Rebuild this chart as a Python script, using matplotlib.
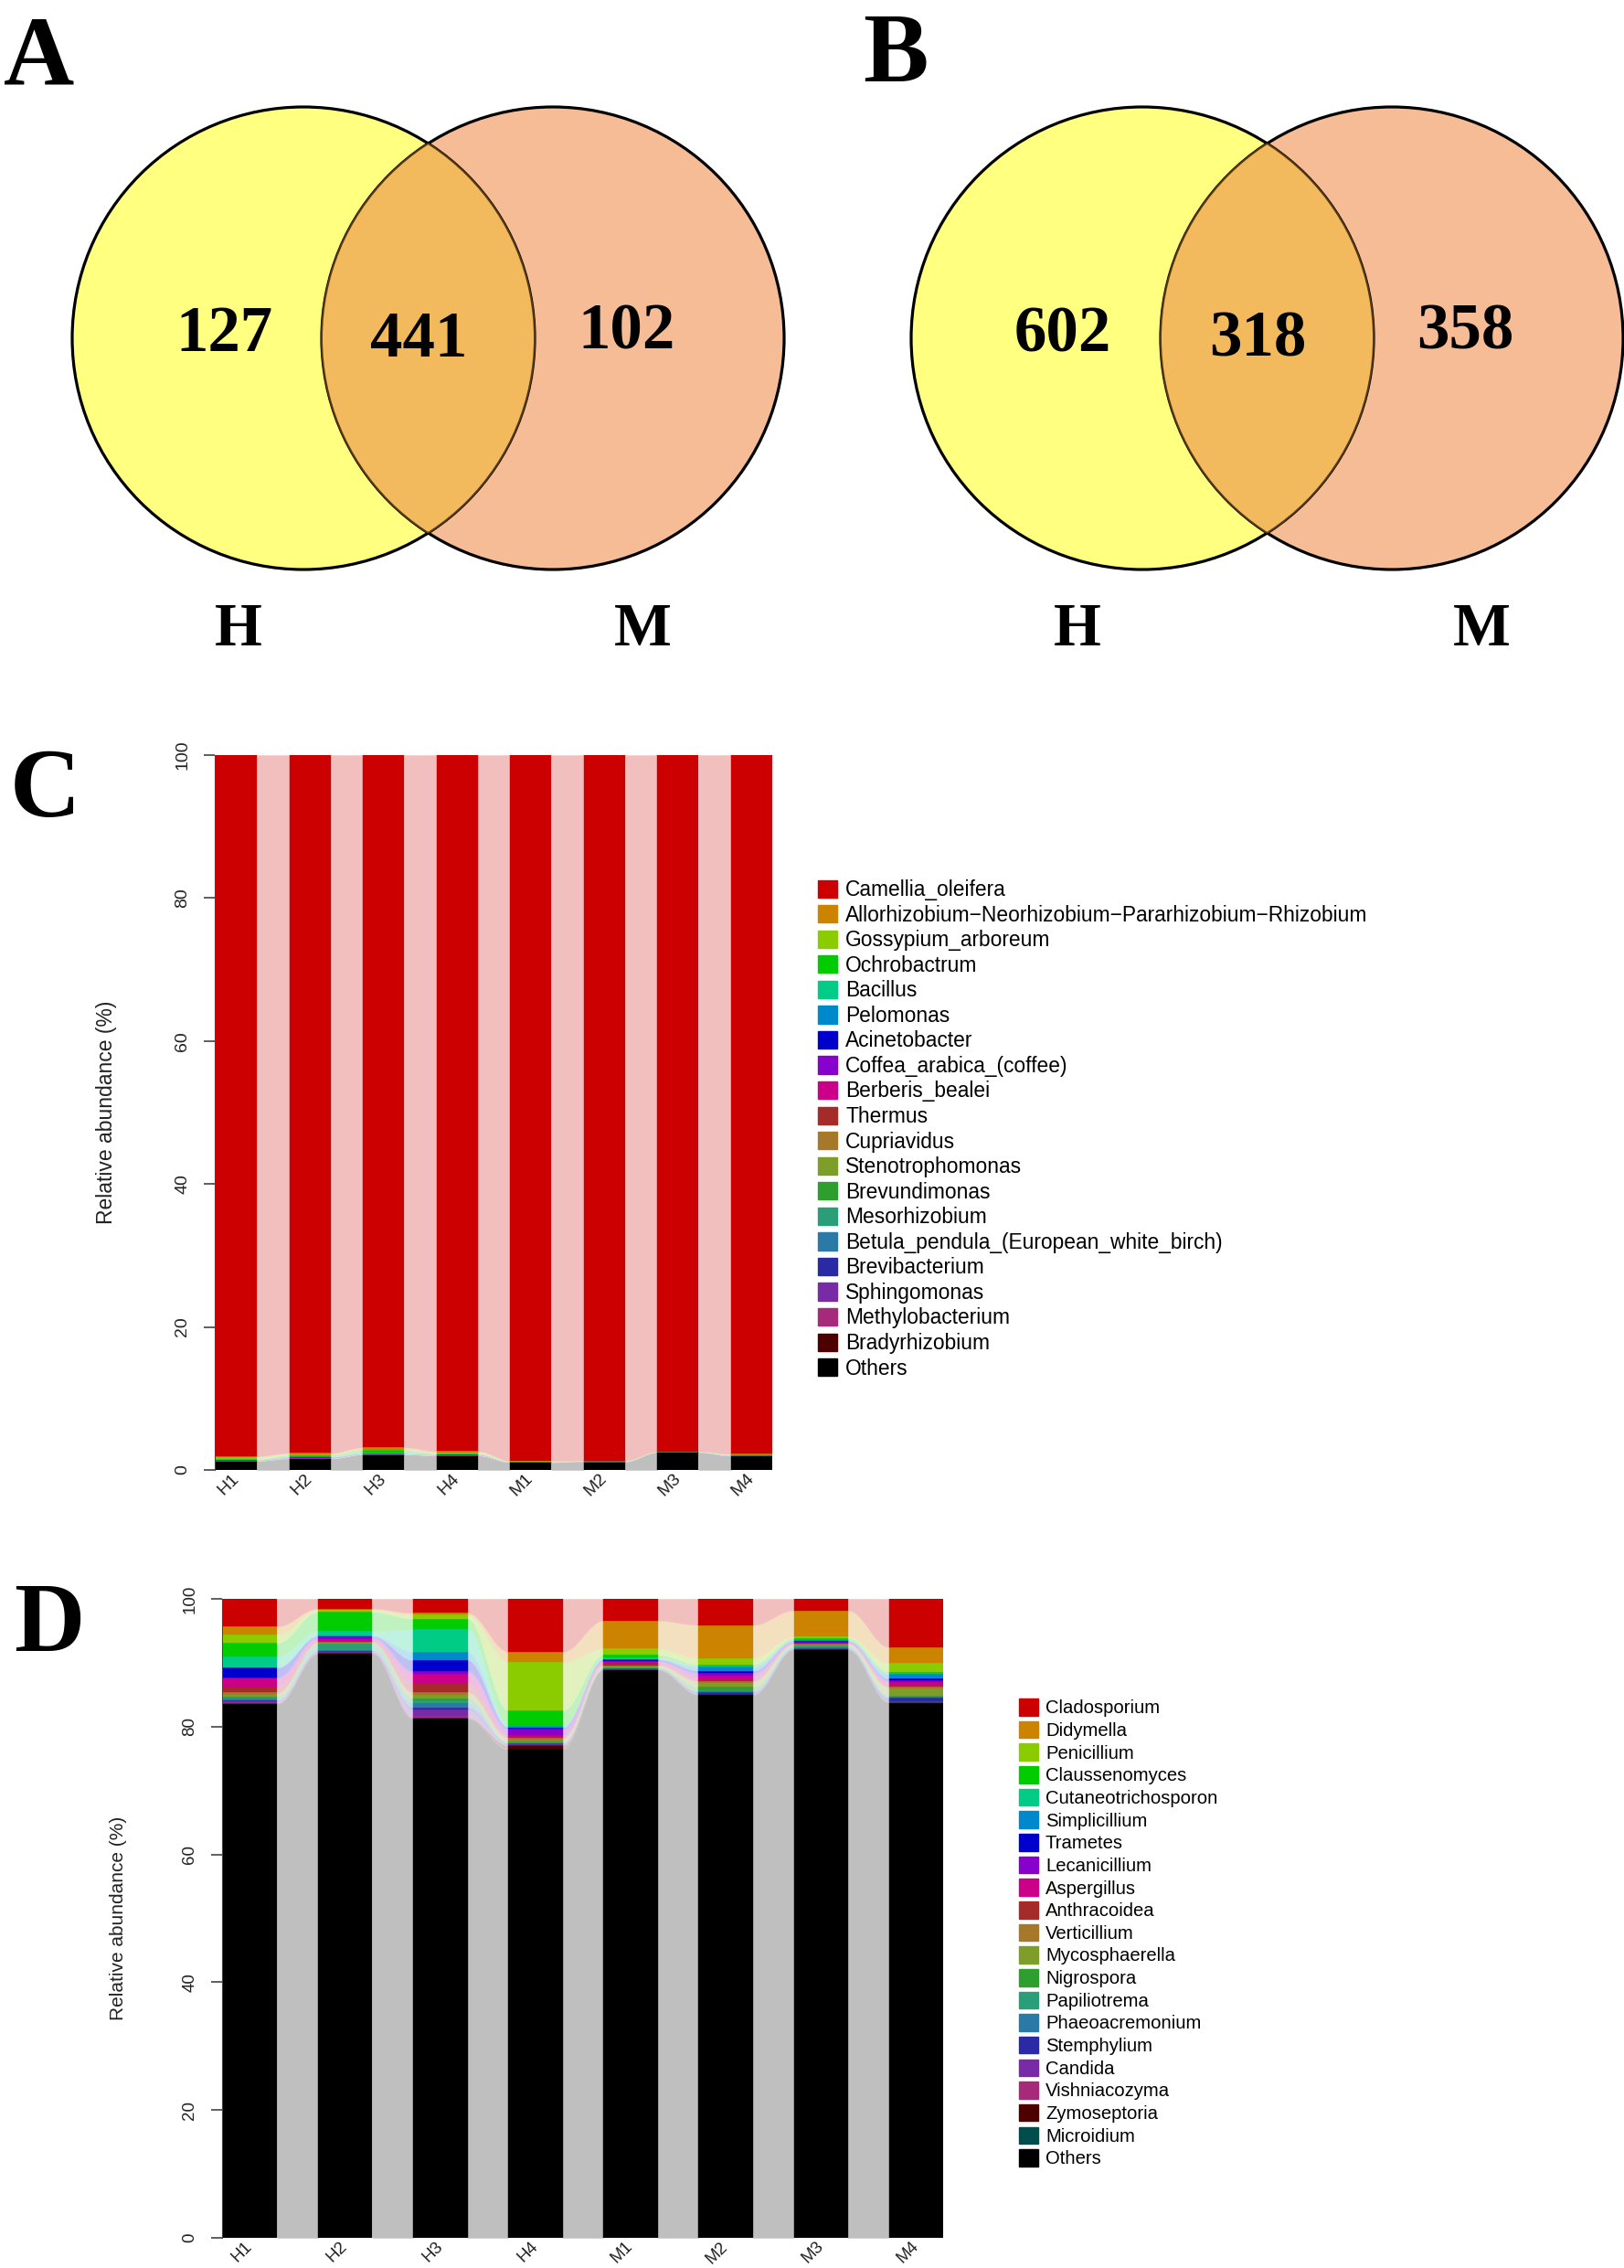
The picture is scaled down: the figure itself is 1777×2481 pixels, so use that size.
import matplotlib.pyplot as plt
import numpy as np
from matplotlib.patches import Circle, Patch

# ---- data -------------------------------------------------------------
venn_sets = ['H', 'M']
venn_a = [127, 441, 102]   # H only, shared, M only
venn_b = [602, 318, 358]

samples = ['H1', 'H2', 'H3', 'H4', 'M1', 'M2', 'M3', 'M4']

# panel C (bacteria / plastid reads), %
c_names = ['Camellia_oleifera', 'Allorhizobium\u2212Neorhizobium\u2212Pararhizobium\u2212Rhizobium',
           'Gossypium_arboreum', 'Ochrobactrum', 'Bacillus', 'Pelomonas', 'Acinetobacter',
           'Coffea_arabica_(coffee)', 'Berberis_bealei', 'Thermus', 'Cupriavidus',
           'Stenotrophomonas', 'Brevundimonas', 'Mesorhizobium',
           'Betula_pendula_(European_white_birch)', 'Brevibacterium', 'Sphingomonas',
           'Methylobacterium', 'Bradyrhizobium', 'Others']
camellia  = [98.15, 97.60, 96.75, 97.35, 98.70, 98.65, 97.35, 97.70]
allorhiz  = [0.12, 0.20, 0.30, 0.25, 0.05, 0.04, 0.03, 0.05]
gossypium = [0.25, 0.08, 0.05, 0.08, 0.04, 0.02, 0.02, 0.06]
ochrobact = [0.08, 0.18, 0.35, 0.05, 0.03, 0.02, 0.02, 0.04]
bacillus  = [0.04, 0.05, 0.12, 0.04, 0.02, 0.01, 0.01, 0.02]
pelomonas = [0.05, 0.08, 0.04, 0.05, 0.01, 0.01, 0.01, 0.02]
acinetob  = [0.02, 0.04, 0.02, 0.03, 0.01, 0.01, 0.01, 0.01]
coffea    = [0.01, 0.02, 0.01, 0.02, 0.01, 0.01, 0.00, 0.01]
berberis  = [0.01, 0.01, 0.01, 0.01, 0.00, 0.01, 0.00, 0.01]
thermus   = [0.01, 0.02, 0.02, 0.01, 0.00, 0.00, 0.01, 0.01]
cupriav   = [0.01, 0.01, 0.01, 0.01, 0.01, 0.00, 0.00, 0.00]
stenotr   = [0.01, 0.02, 0.01, 0.01, 0.00, 0.00, 0.00, 0.01]
brevund   = [0.01, 0.01, 0.02, 0.01, 0.00, 0.00, 0.00, 0.00]
mesorh    = [0.01, 0.01, 0.01, 0.01, 0.00, 0.01, 0.00, 0.00]
betula    = [0.01, 0.01, 0.01, 0.01, 0.01, 0.00, 0.00, 0.01]
brevibac  = [0.01, 0.01, 0.01, 0.01, 0.00, 0.00, 0.00, 0.00]
sphingo   = [0.01, 0.01, 0.01, 0.01, 0.00, 0.00, 0.00, 0.00]
methylo   = [0.01, 0.01, 0.01, 0.01, 0.00, 0.00, 0.00, 0.00]
bradyrh   = [0.01, 0.01, 0.01, 0.01, 0.00, 0.00, 0.00, 0.00]
c_others  = [1.25, 1.60, 2.15, 2.00, 1.10, 1.20, 2.50, 2.00]
c_values = [camellia, allorhiz, gossypium, ochrobact, bacillus, pelomonas, acinetob,
            coffea, berberis, thermus, cupriav, stenotr, brevund, mesorh, betula,
            brevibac, sphingo, methylo, bradyrh, c_others]

# panel D (fungi), %
d_names = ['Cladosporium', 'Didymella', 'Penicillium', 'Claussenomyces',
           'Cutaneotrichosporon', 'Simplicillium', 'Trametes', 'Lecanicillium',
           'Aspergillus', 'Anthracoidea', 'Verticillium', 'Mycosphaerella', 'Nigrospora',
           'Papiliotrema', 'Phaeoacremonium', 'Stemphylium', 'Candida', 'Vishniacozyma',
           'Zymoseptoria', 'Microidium', 'Others']
cladosp   = [4.3, 1.5, 2.2, 8.3, 3.4, 4.1, 1.8, 7.6]
didymella = [1.3, 0.2, 0.3, 1.6, 4.4, 5.2, 4.1, 2.5]
penicill  = [1.3, 0.3, 0.6, 7.6, 1.0, 1.0, 0.25, 1.4]
claussen  = [2.1, 3.0, 1.7, 2.4, 0.4, 0.2, 0.25, 0.2]
cutaneo   = [1.7, 0.7, 3.5, 0.1, 0.2, 0.2, 0.1, 0.2]
simplic   = [0.1, 0.1, 1.3, 0.2, 0.1, 0.6, 0.1, 0.7]
trametes  = [1.5, 0.1, 1.7, 0.2, 0.2, 0.3, 0.1, 0.3]
lecanic   = [0.2, 0.4, 0.4, 1.0, 0.1, 0.5, 0.2, 0.2]
aspergil  = [1.3, 0.25, 1.7, 0.2, 0.4, 0.5, 0.1, 0.5]
anthraco  = [0.9, 0.2, 1.2, 0.2, 0.2, 0.3, 0.05, 0.3]
verticil  = [0.3, 0.1, 0.5, 0.4, 0.1, 0.3, 0.1, 0.2]
mycosph   = [0.3, 0.1, 0.5, 0.2, 0.2, 0.6, 0.1, 1.2]
nigrosp   = [0.2, 0.1, 0.3, 0.1, 0.1, 0.6, 0.05, 0.1]
papilio   = [0.2, 0.9, 0.4, 0.1, 0.05, 0.1, 0.3, 0.1]
phaeoacr  = [0.2, 0.2, 0.7, 0.1, 0.05, 0.1, 0.1, 0.1]
stemphyl  = [0.15, 0.1, 0.4, 0.1, 0.05, 0.3, 0.1, 0.6]
candida   = [0.2, 0.1, 1.0, 0.1, 0.05, 0.05, 0.05, 0.05]
vishniac  = [0.1, 0.1, 0.2, 0.1, 0.05, 0.05, 0.05, 0.05]
zymosept  = [0.05, 0.05, 0.1, 0.5, 0.05, 0.05, 0.02, 0.05]
microid   = [0.05, 0.05, 0.1, 0.1, 0.05, 0.05, 0.02, 0.05]
d_others  = [83.8, 91.2, 81.4, 76.7, 89.1, 85.3, 92.4, 84.5]
d_values = [cladosp, didymella, penicill, claussen, cutaneo, simplic, trametes, lecanic,
            aspergil, anthraco, verticil, mycosph, nigrosp, papilio, phaeoacr, stemphyl,
            candida, vishniac, zymosept, microid, d_others]

palette = ['#CC0000', '#CC8400', '#8ACC00', '#00CC00', '#00CC88', '#0088CC', '#0000CC',
           '#8800CC', '#CC0088', '#A52A2A', '#A6792A', '#7E9E2A', '#2E9E2E', '#2A9E79',
           '#2A79A6', '#2A2AA6', '#792AA6', '#A62A79', '#4D0000', '#004D4D']

W, H = 1777, 2481
fig = plt.figure(figsize=(W / 100, H / 100), dpi=100)
sans = ['Liberation Sans', 'DejaVu Sans']
serif = ['Liberation Serif', 'DejaVu Serif']


def fx(px):
    return px / W


def fy(py):
    return 1 - py / H


# ---- Venn diagrams ------------------------------------------------------
axv = fig.add_axes([0, fy(770), 1, 770 / H])
axv.set_xlim(0, W)
axv.set_ylim(770, 0)
axv.axis('off')

r = 253
for counts, (xl, xr) in [(venn_a, (332, 605)), (venn_b, (1250, 1523))]:
    left = Circle((xl, 370), r, fc='#FFFF80', ec='none')
    right = Circle((xr, 370), r, fc='#F5BC96', ec='none')
    axv.add_patch(left)
    axv.add_patch(right)
    axv.add_patch(Circle((xl, 370), r, fill=False, ec='black', lw=2.3))
    axv.add_patch(Circle((xr, 370), r, fill=False, ec='black', lw=2.3))
    lens = Circle((xr, 370), r, fc='#F2BA5C', ec='none')
    axv.add_patch(lens)
    lens.set_clip_path(left)
    arc1 = Circle((xl, 370), r, fill=False, ec='#5A3A14', lw=1.4)
    axv.add_patch(arc1)
    arc1.set_clip_path(right)
    arc2 = Circle((xr, 370), r, fill=False, ec='#5A3A14', lw=1.4)
    axv.add_patch(arc2)
    arc2.set_clip_path(left)
    num_kw = dict(fontsize=51, fontweight='bold', family=serif, ha='center', va='center')
    axv.text(xl - 87, 367, str(counts[0]), **num_kw)
    axv.text((xl + xr) / 2 - 10, 372, str(counts[1]), **num_kw)
    axv.text(xr + 80, 364, str(counts[2]), **num_kw)
    axv.text(xl - 71, 690, venn_sets[0], fontsize=48, fontweight='bold', family=serif,
             ha='center', va='center')
    axv.text(xr + 98, 690, venn_sets[1], fontsize=48, fontweight='bold', family=serif,
             ha='center', va='center')

for lab, x, y in [('A', 4, 92), ('B', 944, 89), ('C', 11, 893), ('D', 15, 1806)]:
    fig.text(fx(x), fy(y), lab, fontsize=77, fontweight='bold', family=serif,
             ha='left', va='baseline')


# ---- stacked bars with flows -------------------------------------------
def lighten(c, a=0.25):
    rgb = np.array(plt.matplotlib.colors.to_rgb(c))
    return tuple(1 - a * (1 - rgb))


def flow_bars(ax, values, colors, width, tick_fs, lab_fs, ylab_x):
    vals = np.array(values, dtype=float)
    vals = vals / vals.sum(axis=0) * 100
    n = vals.shape[1]
    x = np.arange(n)
    layers = vals[::-1]
    cols = colors[::-1]
    tops = np.cumsum(layers, axis=0)
    bots = tops - layers
    t = np.linspace(0, 1, 80)
    s = (1 - np.cos(np.pi * t)) / 2
    for k in range(len(layers)):
        light = lighten(cols[k])
        for i in range(n - 1):
            xs = x[i] + width / 2 + (1 - width) * t
            lo = bots[k, i] + (bots[k, i + 1] - bots[k, i]) * s
            hi = tops[k, i] + (tops[k, i + 1] - tops[k, i]) * s
            ax.fill_between(xs, lo, hi, color=light, lw=0.3, edgecolor=light)
        ax.bar(x, layers[k], width, bottom=bots[k], color=cols[k],
               edgecolor=cols[k], lw=0.3, zorder=3)
    ax.set_xlim(-width / 2, n - 1 + width / 2)
    ax.set_ylim(0, 100)
    for sp in ['top', 'right', 'bottom']:
        ax.spines[sp].set_visible(False)
    ax.spines['left'].set_position(('outward', 1))
    ax.spines['left'].set_color('#444444')
    ax.set_yticks([0, 20, 40, 60, 80, 100])
    ax.tick_params(axis='y', length=9, width=1.2, color='#444444', pad=10,
                   labelsize=tick_fs, labelrotation=90, labelcolor='#222222')
    for tl in ax.get_yticklabels():
        tl.set_va('center')
        tl.set_family(sans)
    ax.set_xticks(x)
    ax.set_xticklabels(samples, rotation=45, ha='right', va='center',
                       rotation_mode='anchor', fontsize=tick_fs, family=sans,
                       color='#222222')
    ax.tick_params(axis='x', length=0, pad=5)
    ax.text(ylab_x, 0.5, 'Relative abundance (%)', rotation=90, ha='center',
            va='center', transform=ax.transAxes, fontsize=lab_fs, family=sans,
            color='#222222')


axc = fig.add_axes([fx(236), fy(1608), fx(845 - 236), (1608 - 826) / H])
flow_bars(axc, c_values, palette[:19] + ['#000000'], 0.56, 14, 16.5, -0.197)
handles = [Patch(color=c) for c in palette[:19] + ['#000000']]
fig.legend(handles, c_names, loc='upper left', bbox_to_anchor=(fx(895), fy(962)),
           frameon=False, prop={'family': sans, 'size': 16.4},
           handlelength=0.92, handleheight=0.92, handletextpad=0.4,
           labelspacing=0.2, borderpad=0, borderaxespad=0)

axd = fig.add_axes([fx(244), fy(2448), fx(1032 - 244), (2448 - 1749) / H])
flow_bars(axd, d_values, palette + ['#000000'], 0.57, 13.5, 15, -0.145)
handles = [Patch(color=c) for c in palette + ['#000000']]
fig.legend(handles, d_names, loc='upper left', bbox_to_anchor=(fx(1115), fy(1858)),
           frameon=False, prop={'family': sans, 'size': 14.6},
           handlelength=1.03, handleheight=1.03, handletextpad=0.4,
           labelspacing=0.22, borderpad=0, borderaxespad=0)

fig.savefig('out.png', dpi=100)
